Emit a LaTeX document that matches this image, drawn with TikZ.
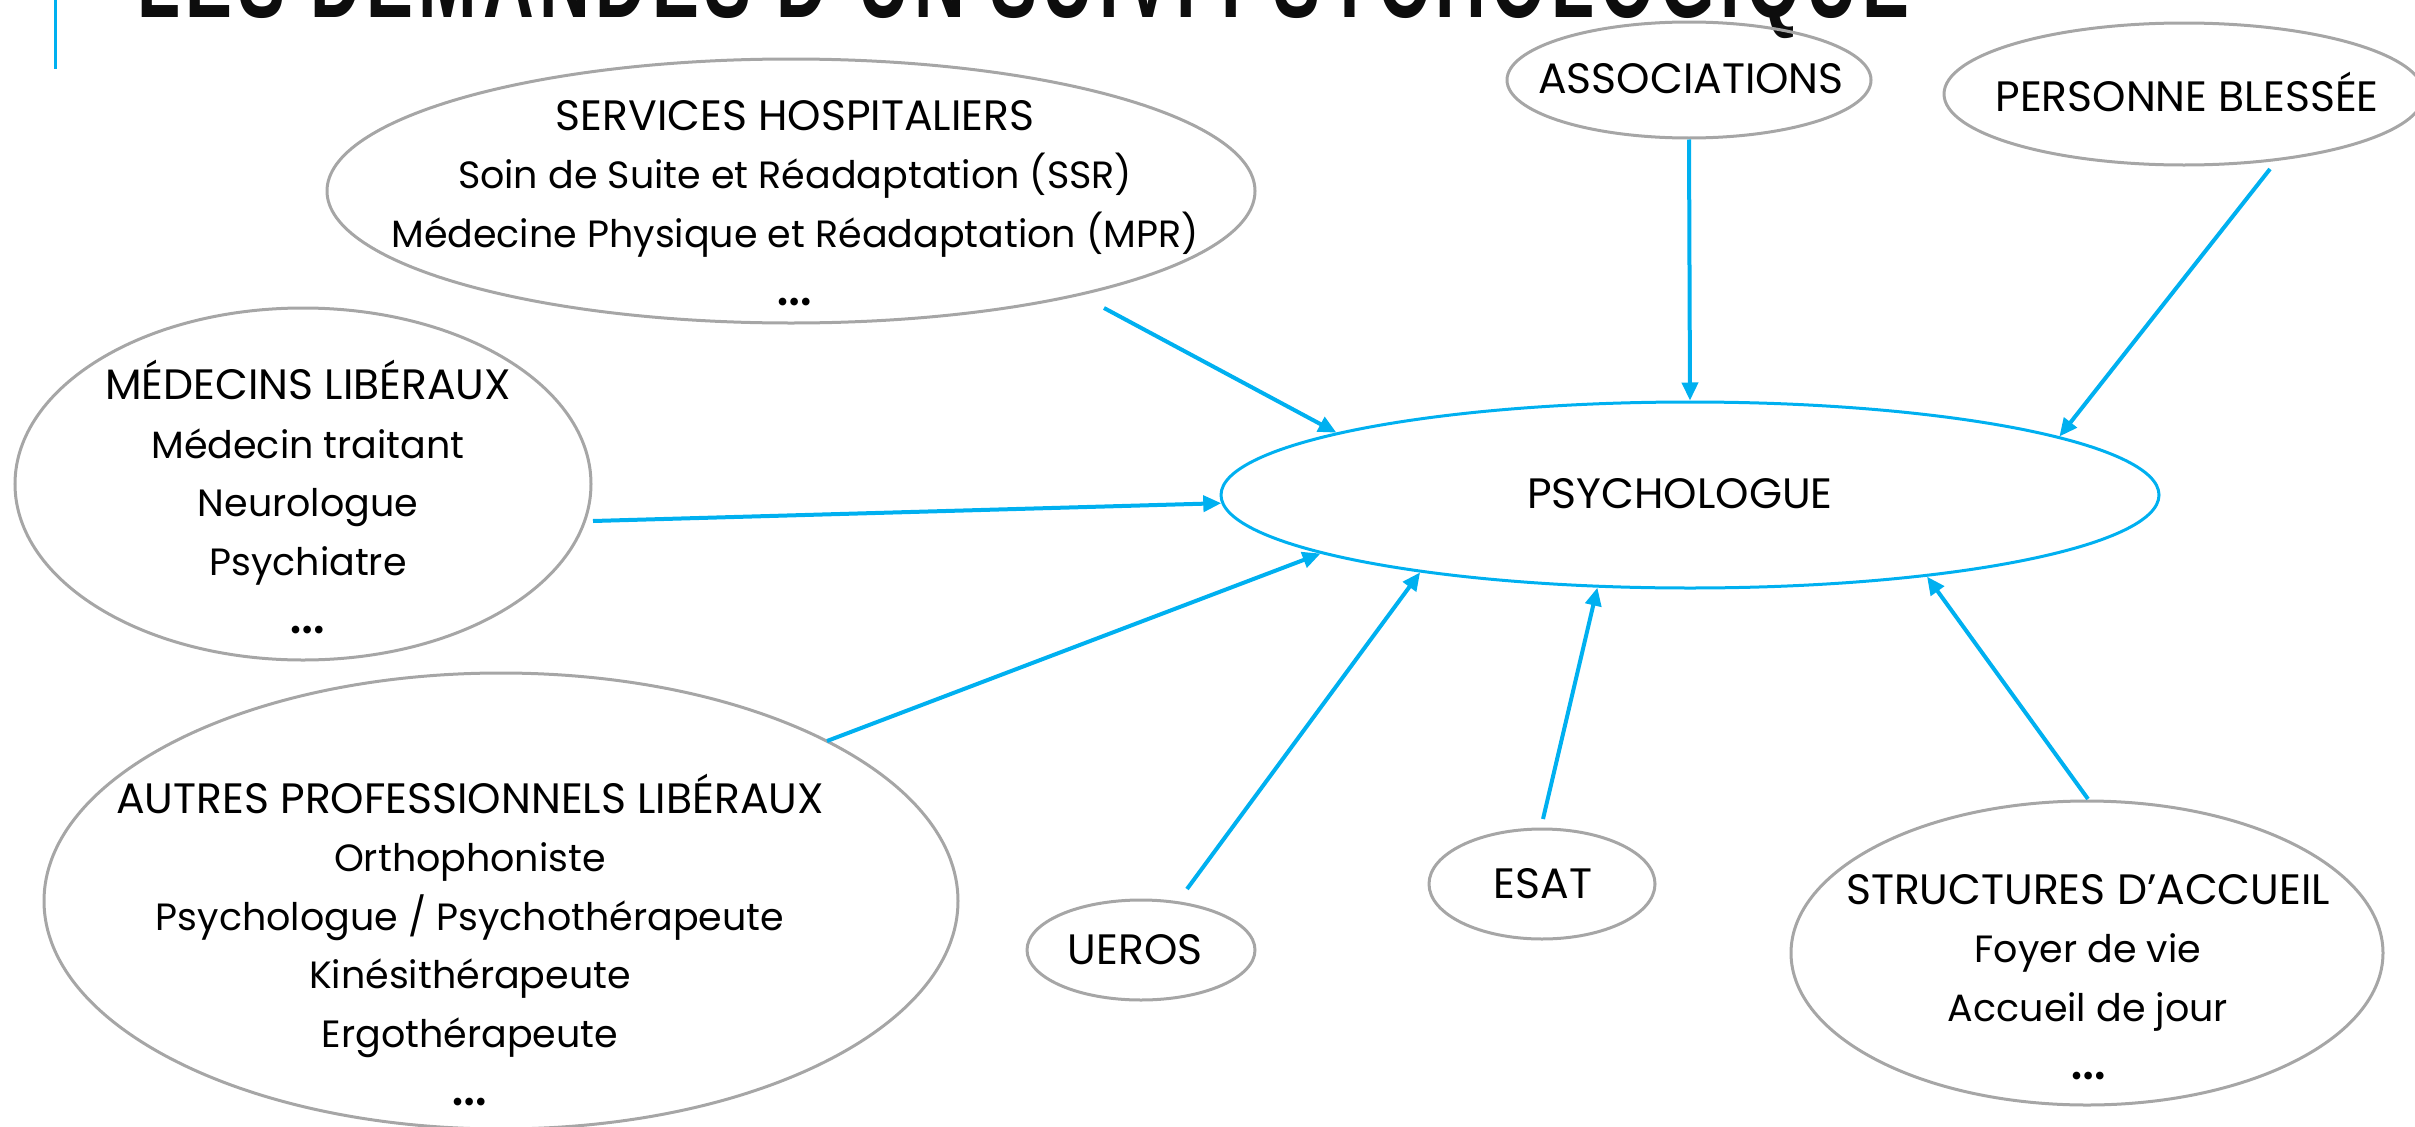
\documentclass[tikz,border=0pt]{standalone}
\usepackage{fontspec}
\setmainfont{Poppins}
\newfontfamily\titlefont[LetterSpace=8]{Liberation Sans}
\usetikzlibrary{shapes.geometric,arrows.meta}
\definecolor{cblue}{HTML}{00B0F0}
\definecolor{cgray}{HTML}{A6A6A6}
\newcommand{\capf}{\fontsize{42.5}{58.5}\selectfont}
\newcommand{\lowf}{\fontsize{38}{58.5}\selectfont}
\newcommand{\dotsf}{{\fontsize{62}{58.5}\selectfont …}}
\begin{document}
\begin{tikzpicture}[x=1pt,y=-1pt,
  bub/.style={ellipse, draw=cgray, line width=3pt, inner sep=0pt},
  txt/.style={font=\capf, align=center, inner sep=0pt},
  arr/.style={cblue, line width=4pt, -{Triangle[length=18pt,width=16pt]}}]
\useasboundingbox (0,0) rectangle (2415,1127);
\begin{scope}
\clip (0,0) rectangle (2415,1127);
\node[anchor=base west, inner sep=0pt, text=black!95] (title) at (137,18)
  {\resizebox{1772pt}{75pt}{\titlefont\bfseries LES DEMANDES D’UN SUIVI PSYCHOLOGIQUE}};
\end{scope}
\coordinate (bt) at (55,0);
\coordinate (bb) at (55,69);
\draw[cblue, line width=3pt] (bt) -- (bb);

% ellipses
\node[bub, minimum width=928pt, minimum height=264pt] (svc) at (791,191) {};
\node[bub, minimum width=576pt, minimum height=352pt] (med) at (303,484) {};
\node[bub, minimum width=914pt, minimum height=456pt] (aut) at (501,901) {};
\node[bub, minimum width=364pt, minimum height=116pt] (ass) at (1689,80) {};
\node[bub, minimum width=480pt, minimum height=142pt] (per) at (2184,94) {};
\node[bub, draw=cblue, minimum width=938pt, minimum height=186pt] (psy) at (1690,495) {};
\node[bub, minimum width=228pt, minimum height=100pt] (uer) at (1141,950) {};
\node[bub, minimum width=226pt, minimum height=110pt] (esa) at (1542,884) {};
\node[bub, minimum width=592pt, minimum height=304pt] (str) at (2087,953) {};

% texts
\node[txt] (tsvc) at (795,203) {\capf SERVICES HOSPITALIERS\\\lowf Soin de Suite et Réadaptation (SSR)\\\lowf Médecine Physique et Réadaptation (MPR)\\\dotsf};
\node[txt] (tmed) at (308,497) {\capf MÉDECINS LIBÉRAUX\\\lowf Médecin traitant\\\lowf Neurologue\\\lowf Psychiatre\\\dotsf};
\node[txt] (taut) at (470,940) {\capf AUTRES PROFESSIONNELS LIBÉRAUX\\\lowf Orthophoniste\\\lowf Psychologue / Psychothérapeute\\\lowf Kinésithérapeute\\\lowf Ergothérapeute\\\dotsf};
\node[txt] (tass) at (1691,79) {ASSOCIATIONS};
\node[txt] (tper) at (2187,92) {PERSONNE BLESSÉE};
\node[txt] (tpsy) at (1680,494) {PSYCHOLOGUE};
\node[txt] (tuer) at (1135,950) {UEROS};
\node[txt] (tesa) at (1543,884) {ESAT};
\node[txt] (tstr) at (2088,977) {\capf STRUCTURES D’ACCUEIL\\\lowf Foyer de vie\\\lowf Accueil de jour\\\dotsf};

% arrows
\draw[arr] ([shift={(313,117)}]svc.center) -- (psy.170.5);
\draw[arr] ([shift={(290,37)}]med.center) -- (psy.181);
\draw[arr] ([shift={(326,-160)}]aut.center) -- (psy.189.1);
\draw[arr] ([shift={(46,-61)}]uer.center) -- (psy.196);
\draw[arr] ([shift={(1,-65)}]esa.center) -- (psy.225.9);
\draw[arr] ([shift={(1,-154)}]str.center) -- (psy.341.8);
\draw[arr] (ass.south) -- (psy.90);
\draw[arr] ([shift={(86,75)}]per.center) -- (psy.9.9);
\end{tikzpicture}
\end{document}
